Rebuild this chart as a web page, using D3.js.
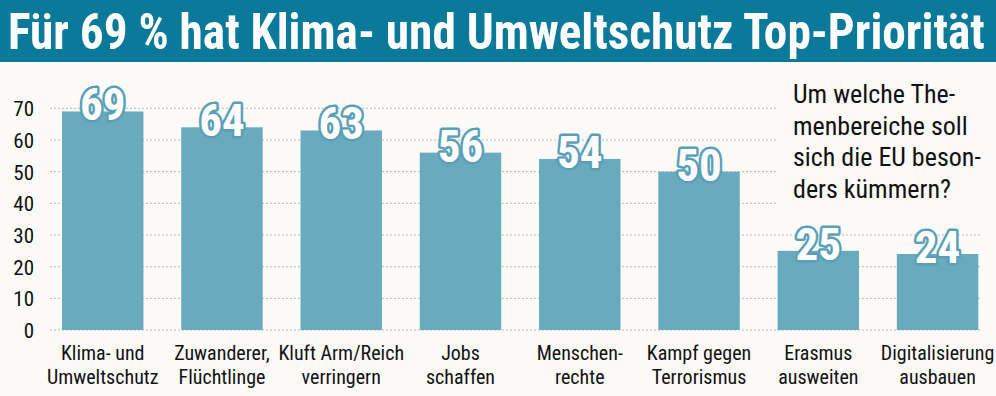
<!DOCTYPE html>
<html><head><meta charset="utf-8">
<script src="https://cdn.jsdelivr.net/npm/d3@7"></script>
<style>
html,body{margin:0;padding:0;background:#fbfaf7;}
svg{display:block;}
text{font-family:"Liberation Sans Narrow","Roboto Condensed","DejaVu Sans Condensed","Arial Narrow",sans-serif;}
</style></head>
<body>
<svg id="c" width="996" height="396"></svg>
<script>
const title = "Für 69 % hat Klima- und Umweltschutz Top-Priorität";
const categories = [
  ["Klima- und","Umweltschutz"],
  ["Zuwanderer,","Flüchtlinge"],
  ["Kluft Arm/Reich","verringern"],
  ["Jobs","schaffen"],
  ["Menschen-","rechte"],
  ["Kampf gegen","Terrorismus"],
  ["Erasmus","ausweiten"],
  ["Digitalisierung","ausbauen"]
];
const values = [69, 64, 63, 56, 54, 50, 25, 24];
const yTicks = [0, 10, 20, 30, 40, 50, 60, 70];
const question = ["Um welche The-","menbereiche soll","sich die EU beson-","ders kümmern?"];

const svg = d3.select("#c");
svg.append("rect").attr("width",996).attr("height",396).attr("fill","#fbfaf7");
svg.append("rect").attr("x",0).attr("y",0).attr("width",996).attr("height",62).attr("fill","#0b7a9a");

// title: fit natural width to 977px, then stretch vertically to keep height
const targetW = 977, baseSize = 50;
const tg = svg.append("g");
const tt = tg.append("text").attr("x",0).attr("y",0).attr("fill","#fff")
  .attr("font-size",baseSize).attr("font-weight","bold").text(title);
const w = tt.node().getComputedTextLength();
const fs = baseSize * targetW / w;
tt.attr("font-size", fs);
tg.attr("transform", `translate(8,49) scale(1,${baseSize/fs})`);

const x = d3.scaleBand().domain(d3.range(values.length)).range([62,978.3]).paddingInner(0.317).paddingOuter(0);
const y = d3.scaleLinear().domain([0,70]).range([330,108.3]);

// gridlines
svg.append("g").selectAll("line").data(yTicks).join("line")
  .attr("x1",50).attr("x2",d=> d>=40 ? 776 : 980)
  .attr("y1",d=>y(d)).attr("y2",d=>y(d))
  .attr("stroke","#b9b9b9").attr("stroke-width",1).attr("stroke-dasharray","2,2");

// y axis labels
const yAxis = d3.axisLeft(y).tickValues(yTicks).tickSize(0).tickPadding(0);
const ga = svg.append("g").attr("transform","translate(34,0)").call(yAxis);
ga.select(".domain").remove();
ga.selectAll("text").attr("font-size",21).attr("fill","#111").attr("dy","0.35em")
  .style("font-family",'"Liberation Sans Narrow","Roboto Condensed","DejaVu Sans Condensed",sans-serif');

// bars
svg.append("g").selectAll("rect").data(values).join("rect")
  .attr("x",(d,i)=>x(i)).attr("width",x.bandwidth())
  .attr("y",d=>y(d)).attr("height",d=>y(0)-y(d))
  .attr("fill","#6aaabf");

// value labels
svg.append("g").selectAll("text").data(values).join("text")
  .attr("x",(d,i)=>x(i)+x.bandwidth()/2).attr("y",d=>y(d)+9)
  .attr("text-anchor","middle").attr("font-size",45).attr("font-weight","bold")
  .attr("fill","#fff").attr("stroke","#5b9fb7").attr("stroke-width",5)
  .attr("paint-order","stroke").attr("stroke-linejoin","round")
  .text(d=>d);

// category labels
const cl = svg.append("g").selectAll("text").data(categories).join("text")
  .attr("x",(d,i)=>x(i)+x.bandwidth()/2).attr("y",360)
  .attr("text-anchor","middle").attr("font-size",20).attr("fill","#111");
cl.selectAll("tspan").data(d=>d).join("tspan")
  .attr("x",function(){return this.parentNode.getAttribute("x");})
  .attr("dy",(d,j)=> j===0 ? 0 : 24).text(d=>d);

// question
svg.append("g").selectAll("text").data(question).join("text")
  .attr("x",793).attr("y",(d,i)=>103+i*31.5)
  .attr("font-size",26).attr("fill","#111").text(d=>d);
</script>
</body></html>
